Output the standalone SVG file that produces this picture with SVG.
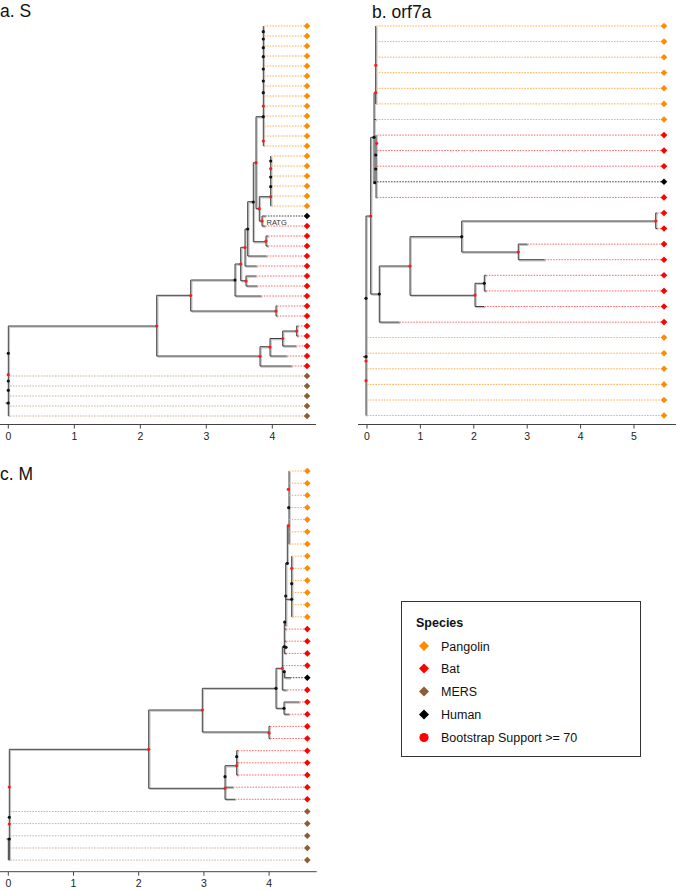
<svg xmlns="http://www.w3.org/2000/svg" width="685" height="890" viewBox="0 0 685 890">
<style>
text{font-family:"Liberation Sans",Arial,sans-serif;fill:#111}
.ttl{font-size:17.5px}
.ax{font-size:10.5px;text-anchor:middle;fill:#222}
.axl{stroke:#444;stroke-width:1;fill:none}
.br{stroke:#404040;stroke-width:1;fill:none}
.sh{stroke:#c4c4c4;stroke-width:1.6;fill:none}
.dt{fill:none;stroke-width:1;stroke-dasharray:1.6 1.2}
.o{stroke:#ffae55}.r{stroke:#ff6a6a}.m{stroke:#c9b5a0}.k{stroke:#444}
.fo{fill:#ff8c00}.fr{fill:#ff0000}.fm{fill:#8b5e34}.fk{fill:#000}
.nr{fill:#ff1a1a}.nk{fill:#111}
.lg{font-size:12.5px}
</style>
<defs>
<path id="d" d="M0,-3.3L3.3,0L0,3.3L-3.3,0Z"/>
<path id="ld" d="M0,-5L5,0L0,5L-5,0Z"/>
<path id="ta" d="M8.3,326V416M8.3,326H156.7M156.7,295.3V356M156.7,356H260M260,346.7V366M260,366H291.7M260,346.7H270M270,338.5V356M270,356H286.7M270,338.5H282.7M282.7,331V346M282.7,346H296M282.7,331H296.7M296.7,326V336M296.7,326H298M296.7,336H298M156.7,295.3H190.7M190.7,280V311M190.7,311H276M276,306V316M276,306H277M276,316H277M190.7,280H235M235,264V296M235,296H261M235,264H240.7M240.7,247.3V280.7M240.7,280.7H246M246,276V286M246,276H256M246,286H257M240.7,247.3H245M245,229V266M245,266H256.7M245,229H247.7M247.7,201.7V256M247.7,256H266.7M247.7,201.7H253.3M253.3,162.7V241.7M253.3,241.7H266M266,236V246M266,236H268M266,246H268M253.3,162.7H256M256,116.7V208.7M256,116.7H263.3M263.3,26V146M256,208.7H259.3M259.3,196.7V221M259.3,196.7H270.7M270.7,156V206M259.3,221H262M262,216V226M262,216H265M262,226H265M5.5,403H8.3"/>
<path id="tb" d="M366,216V415.5M366,216H370.7M370.7,137.3V294M370.7,137.3H374M374,92.7V182M374,92.7H375.7M375.7,26V104M374,119.5H376M374,182H376M376,135V198M370.7,294H379.3M379.3,266V322.1M379.3,322.1H399.3M379.3,266H410M410,236.7V295.3M410,236.7H461.7M461.7,221V252M461.7,221H655.7M655.7,213V228.5M655.7,213H657M655.7,228.5H657M461.7,252H518.3M518.3,244.1V259.7M518.3,244.1H527.3M518.3,259.7H544.7M410,295.3H475M475,283.3V306.5M475,306.5H484.3M475,283.3H484.3M484.3,275.3V290.9M484.3,275.3H486M484.3,290.9H486M363,356.7H366"/>
<path id="tc" d="M9.3,749.3V860.1M8.3,838V860.1M9.3,749.3H148.7M148.7,710V788.3M148.7,788.3H225M225,765.7V799.3M225,799.3H235M225,787.2H233M225,765.7H236.7M236.7,750.7V775M236.7,750.7H238M236.7,762.8H238M236.7,775H238M148.7,710H202.3M202.3,688.3V732M202.3,732H269M269,726.4V738.5M269,726.4H270M269,738.5H270M202.3,688.3H276M276,668.3V708.3M276,708.3H284M284,702V714.2M284,702H299.3M284,714.2H289M276,668.3H282.3M282.3,646.7V690M282.3,690H286.7M282.3,665.6H283M282.3,671.7H284.3M284.3,671.7V677.7M284.3,677.7H290M282.3,646.7H284.3M284.3,622V653.4M284.3,629.1H286M284.3,641.2H286M284.3,653.4H286M284.3,622H285.7M285.7,563.3V626M285.7,599.3H291.7M291.7,556.1V616.9M285.7,563.3H287.3M287.3,525.7V563.3M287.3,525.7H289M289,471V544M6.5,839H9.3"/>
</defs>
<rect width="685" height="890" fill="#fff"/>
<text class="ttl" x="0" y="17">a. S</text>
<text class="ttl" x="372" y="17.5">b. orf7a</text>
<text class="ttl" x="0" y="479.5">c. M</text>
<g id="connectors">
<use href="#ta" class="sh" transform="translate(1,1)"/>
<use href="#tb" class="sh" transform="translate(1,1)"/>
<use href="#tc" class="sh" transform="translate(1,1)"/>
<use href="#ta" class="br"/>
<use href="#tb" class="br"/>
<use href="#tc" class="br"/>
<path class="dt o" d="M264,26H304M264,36H304M264,46H304M264,56H304M264,66H304M264,76H304M264,86H304M264,96H304M264,106H304M264,116H304M264,126H304M264,136H304M264,146H304M271,156H304M271,166H304M271,176H304M271,186H304M271,196H304M271,206H304"/>
<path class="dt k" d="M265,216H304"/>
<path class="dt r" d="M265,226H304M268,236H304M268,246H304M267,256H304M257,266H304M256,276H304M257,286H304M261,296H304M277,306H304M277,316H304M298,326H304M298,336H304M296,346H304M287,356H304M292,366H304"/>
<path class="dt m" d="M10,376H304M10,386H304M10,396H304M10,406H304M10,416H304"/>
<path class="dt o" d="M376,26H661M376,41.6H661M376,57.2H661M376,72.7H661M376,88.3H661M376,103.9H661M376,119.5H661M367,337.6H661M367,353.2H661M367,368.8H661M367,384.4H661M367,400H661M367,415.5H661"/>
<path class="dt r" d="M377,135.1H661M377,150.6H661M377,166.2H661M377,197.4H661M657,213H661M657,228.5H661M527.3,244.1H661M544.7,259.7H661M486,275.3H661M486,290.9H661M484.3,306.5H661M399.3,322.1H661"/>
<path class="dt k" d="M377,181.8H661"/>
<path class="dt o" d="M289,471H304M289,483.2H304M289,495.3H304M289,507.5H304M289,519.6H304M289,531.8H304M289,544H304M292,556.1H304M292,568.3H304M292,580.4H304M292,592.6H304M292,604.8H304M292,616.9H304"/>
<path class="dt r" d="M286,629.1H304M286,641.2H304M286,653.4H304M283,665.6H304M287,689.9H304M299.3,702H304M289,714.2H304M270,726.4H304M270,738.5H304M238,750.7H304M238,762.8H304M238,775H304M233,787.2H304M235,799.3H304"/>
<path class="dt k" d="M290,677.7H304"/>
<path class="dt m" d="M10,811.5H304M10,823.6H304M10,835.8H304M10,848H304M10,860.1H304"/>
</g>
<g id="internal-nodes-a">
<g class="nr"><circle cx="156.7" cy="326" r="1.6"/><circle cx="260" cy="356.3" r="1.6"/><circle cx="270" cy="347" r="1.6"/><circle cx="282.7" cy="338.5" r="1.6"/><circle cx="296.7" cy="331" r="1.6"/><circle cx="190.7" cy="295.5" r="1.6"/><circle cx="276" cy="311" r="1.6"/><circle cx="240.7" cy="264" r="1.6"/><circle cx="246" cy="281" r="1.6"/><circle cx="245" cy="247.5" r="1.6"/><circle cx="266" cy="241" r="1.6"/><circle cx="256" cy="162.7" r="1.6"/><circle cx="259.3" cy="208.7" r="1.6"/><circle cx="262" cy="221" r="1.6"/><circle cx="263.3" cy="106" r="1.6"/><circle cx="263.3" cy="141" r="1.6"/><circle cx="270.7" cy="168.7" r="1.6"/><circle cx="270.7" cy="196.7" r="1.6"/><circle cx="8.3" cy="374.7" r="1.6"/></g>
<g class="nk"><circle cx="235" cy="280" r="1.6"/><circle cx="247.7" cy="229" r="1.6"/><circle cx="253.3" cy="202" r="1.6"/><circle cx="263.3" cy="116.7" r="1.6"/><circle cx="263.3" cy="31.7" r="1.6"/><circle cx="263.3" cy="39" r="1.6"/><circle cx="263.3" cy="47.7" r="1.6"/><circle cx="263.3" cy="56.7" r="1.6"/><circle cx="263.3" cy="69" r="1.6"/><circle cx="263.3" cy="81" r="1.6"/><circle cx="263.3" cy="92.7" r="1.6"/><circle cx="270.7" cy="161" r="1.6"/><circle cx="270.7" cy="177" r="1.6"/><circle cx="270.7" cy="186.7" r="1.6"/><circle cx="8.3" cy="353.3" r="1.6"/><circle cx="8.3" cy="381" r="1.6"/><circle cx="8.3" cy="390.3" r="1.6"/><circle cx="8.3" cy="403" r="1.6"/></g>
<text x="266.5" y="224.5" style="font-size:7.5px;fill:#333">RATG</text>
</g>
<g id="internal-nodes-b">
<g class="nr"><circle cx="375.7" cy="65.3" r="1.6"/><circle cx="375.7" cy="92.7" r="1.6"/><circle cx="376.7" cy="143.3" r="1.6"/><circle cx="370.7" cy="216" r="1.6"/><circle cx="410" cy="266" r="1.6"/><circle cx="655.7" cy="221" r="1.6"/><circle cx="518.3" cy="252" r="1.6"/><circle cx="475" cy="295" r="1.6"/><circle cx="366" cy="361" r="1.6"/><circle cx="366" cy="380.7" r="1.6"/></g>
<g class="nk"><circle cx="374" cy="137.3" r="1.6"/><circle cx="375.7" cy="155" r="1.6"/><circle cx="375.7" cy="169" r="1.6"/><circle cx="374.7" cy="182.7" r="1.6"/><circle cx="379.3" cy="294" r="1.6"/><circle cx="461.7" cy="236.7" r="1.6"/><circle cx="484.3" cy="283.3" r="1.6"/><circle cx="366" cy="298.3" r="1.6"/><circle cx="366" cy="356.7" r="1.6"/></g>
</g>
<g id="internal-nodes-c">
<g class="nr"><circle cx="9.3" cy="787" r="1.6"/><circle cx="9.3" cy="824" r="1.6"/><circle cx="148.7" cy="749.3" r="1.6"/><circle cx="225" cy="788.3" r="1.6"/><circle cx="236.7" cy="765.7" r="1.6"/><circle cx="202.3" cy="710" r="1.6"/><circle cx="269" cy="733" r="1.6"/><circle cx="288.3" cy="489.3" r="1.6"/><circle cx="288.3" cy="525.7" r="1.6"/><circle cx="291.7" cy="568.3" r="1.6"/><circle cx="282.3" cy="668.3" r="1.6"/></g>
<g class="nk"><circle cx="9.3" cy="817.3" r="1.6"/><circle cx="9.3" cy="839" r="1.6"/><circle cx="225" cy="776.7" r="1.6"/><circle cx="236.7" cy="756.7" r="1.6"/><circle cx="276" cy="688.3" r="1.6"/><circle cx="284" cy="708.3" r="1.6"/><circle cx="288.7" cy="507.7" r="1.6"/><circle cx="287.3" cy="563.3" r="1.6"/><circle cx="291.7" cy="583.7" r="1.6"/><circle cx="291.7" cy="599.3" r="1.6"/><circle cx="285.7" cy="596" r="1.6"/><circle cx="284.7" cy="622" r="1.6"/><circle cx="284.3" cy="646.7" r="1.6"/><circle cx="286" cy="647.3" r="1.6"/><circle cx="284.3" cy="671.7" r="1.6"/></g>
</g>
<g id="tips-a">
<g class="fo"><use href="#d" x="307" y="26"/><use href="#d" x="307" y="36"/><use href="#d" x="307" y="46"/><use href="#d" x="307" y="56"/><use href="#d" x="307" y="66"/><use href="#d" x="307" y="76"/><use href="#d" x="307" y="86"/><use href="#d" x="307" y="96"/><use href="#d" x="307" y="106"/><use href="#d" x="307" y="116"/><use href="#d" x="307" y="126"/><use href="#d" x="307" y="136"/><use href="#d" x="307" y="146"/><use href="#d" x="307" y="156"/><use href="#d" x="307" y="166"/><use href="#d" x="307" y="176"/><use href="#d" x="307" y="186"/><use href="#d" x="307" y="196"/><use href="#d" x="307" y="206"/></g>
<use href="#d" class="fk" x="307" y="216"/>
<g class="fr"><use href="#d" x="307" y="226"/><use href="#d" x="307" y="236"/><use href="#d" x="307" y="246"/><use href="#d" x="307" y="256"/><use href="#d" x="307" y="266"/><use href="#d" x="307" y="276"/><use href="#d" x="307" y="286"/><use href="#d" x="307" y="296"/><use href="#d" x="307" y="306"/><use href="#d" x="307" y="316"/><use href="#d" x="307" y="326"/><use href="#d" x="307" y="336"/><use href="#d" x="307" y="346"/><use href="#d" x="307" y="356"/><use href="#d" x="307" y="366"/></g>
<g class="fm"><use href="#d" x="307" y="376"/><use href="#d" x="307" y="386"/><use href="#d" x="307" y="396"/><use href="#d" x="307" y="406"/><use href="#d" x="307" y="416"/></g>
</g>
<g id="tips-b">
<g class="fo"><use href="#d" x="664" y="26"/><use href="#d" x="664" y="41.6"/><use href="#d" x="664" y="57.2"/><use href="#d" x="664" y="72.7"/><use href="#d" x="664" y="88.3"/><use href="#d" x="664" y="103.9"/><use href="#d" x="664" y="119.5"/><use href="#d" x="664" y="337.6"/><use href="#d" x="664" y="353.2"/><use href="#d" x="664" y="368.8"/><use href="#d" x="664" y="384.4"/><use href="#d" x="664" y="400"/><use href="#d" x="664" y="415.5"/></g>
<g class="fr"><use href="#d" x="664" y="135.1"/><use href="#d" x="664" y="150.6"/><use href="#d" x="664" y="166.2"/><use href="#d" x="664" y="197.4"/><use href="#d" x="664" y="213"/><use href="#d" x="664" y="228.5"/><use href="#d" x="664" y="244.1"/><use href="#d" x="664" y="259.7"/><use href="#d" x="664" y="275.3"/><use href="#d" x="664" y="290.9"/><use href="#d" x="664" y="306.5"/><use href="#d" x="664" y="322.1"/></g>
<use href="#d" class="fk" x="664" y="181.8"/>
</g>
<g id="tips-c">
<g class="fo"><use href="#d" x="307.3" y="471"/><use href="#d" x="307.3" y="483.2"/><use href="#d" x="307.3" y="495.3"/><use href="#d" x="307.3" y="507.5"/><use href="#d" x="307.3" y="519.6"/><use href="#d" x="307.3" y="531.8"/><use href="#d" x="307.3" y="544"/><use href="#d" x="307.3" y="556.1"/><use href="#d" x="307.3" y="568.3"/><use href="#d" x="307.3" y="580.4"/><use href="#d" x="307.3" y="592.6"/><use href="#d" x="307.3" y="604.8"/><use href="#d" x="307.3" y="616.9"/></g>
<g class="fr"><use href="#d" x="307.3" y="629.1"/><use href="#d" x="307.3" y="641.2"/><use href="#d" x="307.3" y="653.4"/><use href="#d" x="307.3" y="665.6"/><use href="#d" x="307.3" y="689.9"/><use href="#d" x="307.3" y="702"/><use href="#d" x="307.3" y="714.2"/><use href="#d" x="307.3" y="726.4"/><use href="#d" x="307.3" y="738.5"/><use href="#d" x="307.3" y="750.7"/><use href="#d" x="307.3" y="762.8"/><use href="#d" x="307.3" y="775"/><use href="#d" x="307.3" y="787.2"/><use href="#d" x="307.3" y="799.3"/></g>
<use href="#d" class="fk" x="307.3" y="677.7"/>
<g class="fm"><use href="#d" x="307.3" y="811.5"/><use href="#d" x="307.3" y="823.6"/><use href="#d" x="307.3" y="835.8"/><use href="#d" x="307.3" y="848"/><use href="#d" x="307.3" y="860.1"/></g>
</g>
<g id="axis-a">
<path class="axl" d="M0,424.5H316M8.3,424.5V428.5M74.3,424.5V428.5M140.3,424.5V428.5M206.3,424.5V428.5M272.3,424.5V428.5"/>
<text class="ax" x="8.3" y="440">0</text><text class="ax" x="74.3" y="440">1</text><text class="ax" x="140.3" y="440">2</text><text class="ax" x="206.3" y="440">3</text><text class="ax" x="272.3" y="440">4</text>
</g>
<g id="axis-b">
<path class="axl" d="M358,424.5H676M367,424.5V428.5M420.4,424.5V428.5M473.8,424.5V428.5M527.2,424.5V428.5M580.6,424.5V428.5M634,424.5V428.5"/>
<text class="ax" x="367" y="440">0</text><text class="ax" x="420.4" y="440">1</text><text class="ax" x="473.8" y="440">2</text><text class="ax" x="527.2" y="440">3</text><text class="ax" x="580.6" y="440">4</text><text class="ax" x="634" y="440">5</text>
</g>
<g id="axis-c">
<path class="axl" d="M0,871.7H316.7M8.3,871.7V875.7M73.5,871.7V875.7M138.7,871.7V875.7M203.9,871.7V875.7M269.1,871.7V875.7"/>
<text class="ax" x="8.3" y="886.5">0</text><text class="ax" x="73.5" y="886.5">1</text><text class="ax" x="138.7" y="886.5">2</text><text class="ax" x="203.9" y="886.5">3</text><text class="ax" x="269.1" y="886.5">4</text>
</g>
<g id="legend">
<rect x="401.5" y="601.5" width="239" height="155" fill="#fff" stroke="#333" stroke-width="1"/>
<text x="416" y="627" style="font-size:12.5px;font-weight:bold">Species</text>
<use href="#ld" class="fo" x="424" y="646"/><text class="lg" x="441" y="650.5">Pangolin</text>
<use href="#ld" class="fr" x="424" y="668.5"/><text class="lg" x="441" y="673">Bat</text>
<use href="#ld" class="fm" x="424" y="691.5"/><text class="lg" x="441" y="696">MERS</text>
<use href="#ld" class="fk" x="424" y="714.5"/><text class="lg" x="441" y="719">Human</text>
<circle cx="424" cy="737.5" r="4.6" fill="#ff0000"/><text class="lg" x="441" y="742">Bootstrap Support &gt;= 70</text>
</g>
</svg>
